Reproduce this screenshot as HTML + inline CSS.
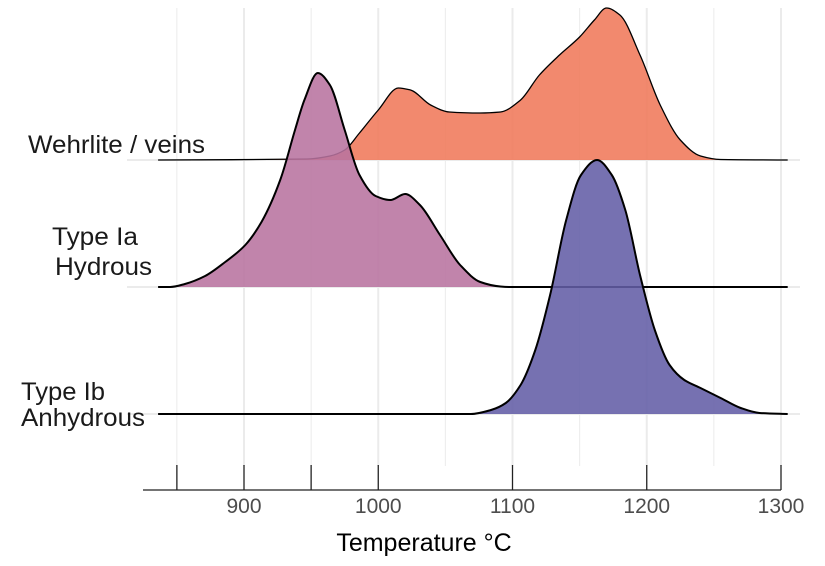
<!DOCTYPE html>
<html><head><meta charset="utf-8">
<style>
html,body{margin:0;padding:0;background:#fff;}
svg{display:block;font-family:"Liberation Sans",Arial,sans-serif;}
</style></head>
<body>
<svg id="chart" width="825" height="566" viewBox="0 0 825 566" xmlns="http://www.w3.org/2000/svg">
<g id="grid"></g>
<g id="ridges"></g>
<g id="axis"></g>
<g font-size="25" fill="#1a1a1a">
<text x="28" y="153" textLength="177" lengthAdjust="spacingAndGlyphs">Wehrlite / veins</text>
<text x="52" y="245" textLength="86" lengthAdjust="spacingAndGlyphs">Type Ia</text>
<text x="55" y="275" textLength="97" lengthAdjust="spacingAndGlyphs">Hydrous</text>
<text x="21" y="400" textLength="84" lengthAdjust="spacingAndGlyphs">Type Ib</text>
<text x="21" y="426" textLength="124" lengthAdjust="spacingAndGlyphs">Anhydrous</text>
</g>
<text x="424" y="551" text-anchor="middle" font-size="25" fill="#000">Temperature °C</text>
</svg>
<script>
const tickLabels = [900, 1000, 1100, 1200, 1300];
const tickMarks = [850, 900, 950, 1000, 1100, 1200, 1300];
const gridTemps = [850, 900, 950, 1000, 1050, 1100, 1150, 1200, 1250, 1300];
const categories = ["Wehrlite / veins", "Type Ia Hydrous", "Type Ib Anhydrous"];
const wehrTemps = [836, 947, 964, 975, 986, 1000, 1015, 1024, 1039, 1053, 1076, 1091, 1106, 1120, 1135, 1150, 1161, 1170, 1180, 1195, 1210, 1225, 1240, 1255, 1305];
const wehrVals  = [0, 1, 4, 10, 27, 50, 72, 70, 55, 48, 47, 48, 60, 85, 105, 123, 140, 152, 145, 105, 55, 20, 4, 0.5, 0];
const iaTemps = [836, 845, 856, 871, 886, 901, 913, 927, 938, 945, 955, 964, 975, 986, 998, 1009, 1020, 1031, 1046, 1061, 1076, 1091, 1098, 1305];
const iaVals  = [0, 0, 3, 11, 25, 42, 65, 107, 157, 187, 214, 202, 157, 112, 91, 87, 93, 82, 52, 22, 5, 0.5, 0, 0];
const ibTemps = [836, 1069, 1084, 1095, 1106, 1117, 1128, 1140, 1151, 1163, 1174, 1184, 1195, 1206, 1217, 1228, 1240, 1255, 1270, 1284, 1305];
const ibVals  = [0, 0, 4, 11, 29, 64, 119, 194, 239, 254, 239, 204, 139, 84, 49, 34, 26, 16, 6, 1, 0];

const NS = "http://www.w3.org/2000/svg";
const xScale = t => 244 + (t - 900) * 1.3425;
const baselines = [160, 287, 414];
const yScale = (v, i) => baselines[i] - v;

function mk(tag, attrs, parent) {
  const e = document.createElementNS(NS, tag);
  for (const k in attrs) e.setAttribute(k, attrs[k]);
  parent.appendChild(e);
  return e;
}
const grid = document.getElementById('grid');
gridTemps.forEach(t => {
  const major = t % 100 === 0;
  const l = mk('line', {x1: xScale(t), x2: xScale(t), y1: 8, y2: 466, stroke: '#ebebeb', 'stroke-width': major ? 2 : 1}, grid);
  
  
});
baselines.forEach((b, i) => {
  const l = mk('line', {x1: 127, x2: 800, y1: b, y2: b, stroke: '#ebebeb', 'stroke-width': 2}, grid);
  
  
});

// monotone cubic (Fritsch-Carlson) to avoid overshoot
function smoothPath(pts) {
  const n = pts.length;
  const dx = [], dy = [], m = [];
  for (let i = 0; i < n - 1; i++) { dx[i] = pts[i+1][0] - pts[i][0]; dy[i] = pts[i+1][1] - pts[i][1]; m[i] = dy[i] / dx[i]; }
  const t = [m[0]];
  for (let i = 1; i < n - 1; i++) {
    if (m[i-1] * m[i] <= 0) t[i] = 0;
    else { const w1 = 2*dx[i] + dx[i-1], w2 = dx[i] + 2*dx[i-1]; t[i] = (w1 + w2) / (w1/m[i-1] + w2/m[i]); }
  }
  t[n-1] = m[n-2];
  let d = 'M' + pts[0][0].toFixed(1) + ',' + pts[0][1].toFixed(1);
  for (let i = 0; i < n - 1; i++) {
    const h = dx[i] / 3;
    d += 'C' + (pts[i][0] + h).toFixed(1) + ',' + (pts[i][1] + t[i]*h).toFixed(1) + ' ' +
         (pts[i+1][0] - h).toFixed(1) + ',' + (pts[i+1][1] - t[i+1]*h).toFixed(1) + ' ' +
         pts[i+1][0].toFixed(1) + ',' + pts[i+1][1].toFixed(1);
  }
  return d;
}
const series = [
  {temps: wehrTemps, vals: wehrVals, fill: '#f0795a', name: 'ridge-wehrlite'},
  {temps: iaTemps, vals: iaVals, fill: '#b8739f', name: 'ridge-type-ia'},
  {temps: ibTemps, vals: ibVals, fill: '#635da6', name: 'ridge-type-ib'}
];
const ridges = document.getElementById('ridges');
series.forEach((s, i) => {
  const pts = s.temps.map((t, j) => [xScale(t), yScale(s.vals[j], i)]);
  const line = smoothPath(pts);
  const area = line + 'L' + xScale(s.temps[s.temps.length - 1]) + ',' + baselines[i] + 'L' + xScale(s.temps[0]) + ',' + baselines[i] + 'Z';
  const a = mk('path', {d: area, fill: s.fill, 'fill-opacity': 0.88, stroke: 'none'}, ridges);
  
  
  const l = mk('path', {d: line, fill: 'none', stroke: '#000', 'stroke-width': i === 0 ? 1.3 : 2}, ridges);
  
  
});

const axis = document.getElementById('axis');
const al = mk('line', {x1: 143, x2: 781, y1: 490, y2: 490, stroke: '#222', 'stroke-width': 1.3}, axis);


tickMarks.forEach(t => {
  const tk = mk('line', {x1: xScale(t), x2: xScale(t), y1: 465, y2: 490, stroke: '#222', 'stroke-width': 1.3}, axis);
  
  
});
tickLabels.forEach(t => {
  const tx = mk('text', {x: xScale(t), y: 513, 'text-anchor': 'middle', 'font-size': 21, fill: '#4d4d4d'}, axis);
  tx.textContent = t;
  
  
});
</script>
</body></html>
